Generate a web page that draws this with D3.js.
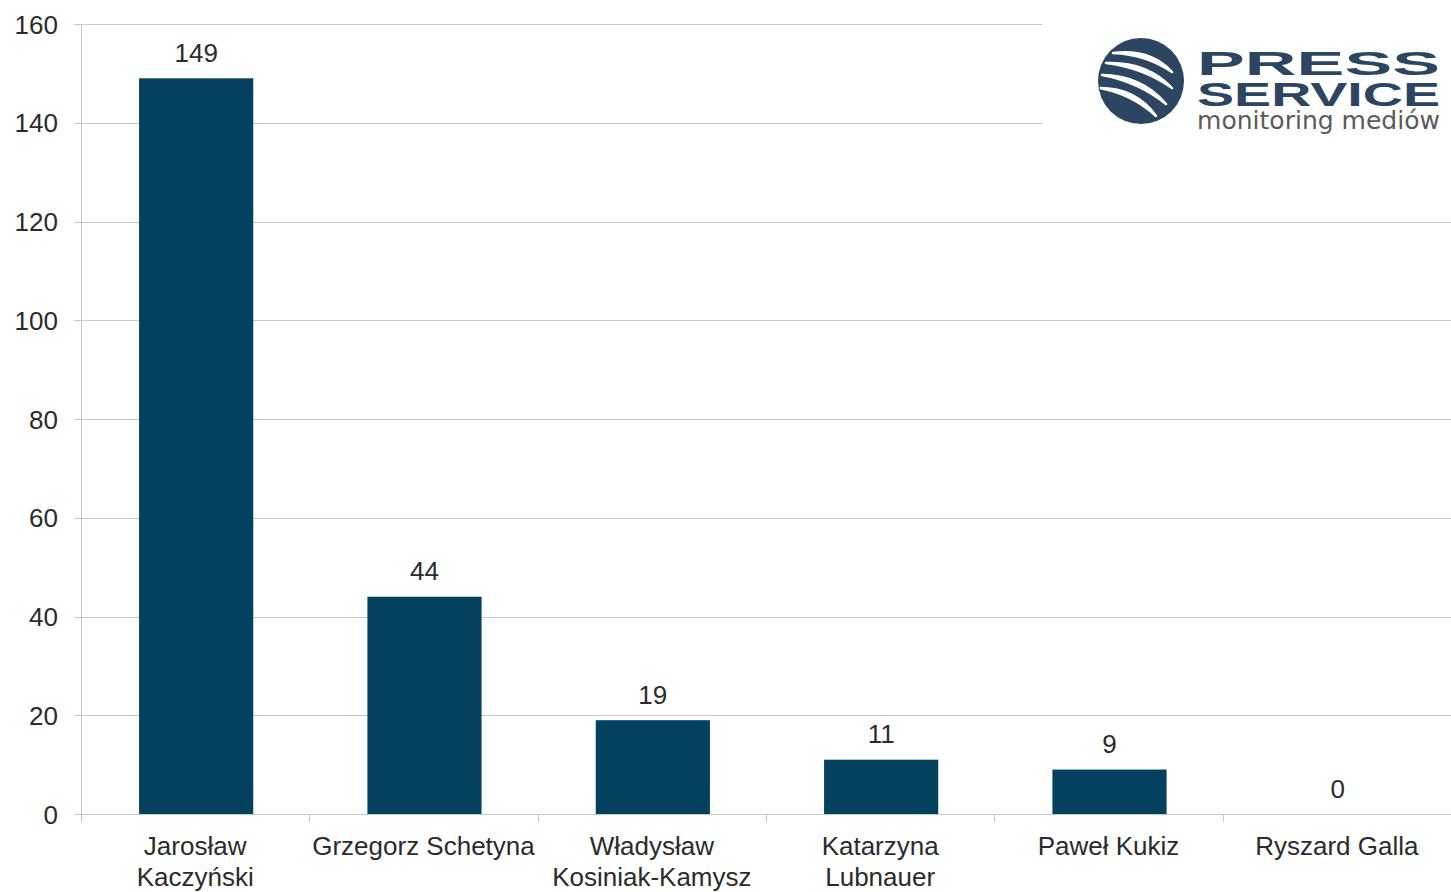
<!DOCTYPE html>
<html><head><meta charset="utf-8">
<script src="https://cdn.jsdelivr.net/npm/d3@7"></script>
<style>body{margin:0;background:#fff}svg{display:block}</style>
</head><body>
<script>
const categories = [["Jarosław","Kaczyński"],["Grzegorz Schetyna"],["Władysław","Kosiniak-Kamysz"],["Katarzyna","Lubnauer"],["Paweł Kukiz"],["Ryszard Galla"]];
const values = [149, 44, 19, 11, 9, 0];
const yTicks = [0,20,40,60,80,100,120,140,160];

const W=1451,H=892;
const svg=d3.select("body").append("svg").attr("width",W).attr("height",H).style("font-family","'Liberation Sans', Arial, sans-serif");
const x=d3.scaleBand().domain(d3.range(categories.length)).range([82,1452]).paddingInner(0.5).paddingOuter(0.25);
const xb=d3.scaleBand().domain(d3.range(categories.length)).range([81,1451]);
const y=d3.scaleLinear().domain([0,160]).range([814,24]);
const grid="#c3c8cd", txt="#2b2b2b";
const fs=26;

// gridlines
svg.append("g").selectAll("line").data(yTicks).join("line")
 .attr("x1",74).attr("x2",W).attr("y1",d=>Math.round(y(d))+0.5).attr("y2",d=>Math.round(y(d))+0.5)
 .attr("stroke",grid).attr("stroke-width",1);
// y axis line
svg.append("line").attr("x1",81.5).attr("x2",81.5).attr("y1",24).attr("y2",822).attr("stroke",grid);
// x category ticks
svg.append("g").selectAll("line").data(d3.range(categories.length)).join("line")
 .attr("x1",d=>Math.round(xb(d))+0.5).attr("x2",d=>Math.round(xb(d))+0.5).attr("y1",814).attr("y2",822).attr("stroke",grid);
// y labels
svg.append("g").selectAll("text").data(yTicks).join("text")
 .attr("x",58).attr("y",d=>y(d)+9.5).attr("text-anchor","end").attr("font-size",fs).attr("fill",txt).text(d=>d);

// bars
svg.append("g").selectAll("rect").data(values).join("rect")
 .attr("x",(d,i)=>x(i)).attr("width",x.bandwidth()).attr("y",d=>y(d)).attr("height",d=>y(0)-y(d))
 .attr("fill","#03415f");

// data labels with white background
const lg=svg.append("g");
values.forEach((v,i)=>{
  const cx=x(i)+x.bandwidth()/2, by=y(v)-17;
  const w=String(v).length*14.5+18;
  lg.append("rect").attr("x",cx-w/2).attr("y",by-25).attr("width",w).attr("height",31).attr("fill","#fff");
  lg.append("text").attr("x",cx).attr("y",by+0.5).attr("text-anchor","middle").attr("font-size",fs).attr("fill",txt).text(v);
});

// category labels
svg.append("g").selectAll("text").data(categories).join("text")
 .attr("x",(d,i)=>xb(i)+xb.bandwidth()/2).attr("y",855).attr("text-anchor","middle").attr("font-size",fs).attr("fill",txt)
 .each(function(d){const t=d3.select(this);d.forEach((s,k)=>t.append("tspan").attr("x",t.attr("x")).attr("dy",k?31:0).text(s));});

// logo
const logo=svg.append("g");
logo.append("rect").attr("x",1042).attr("y",0).attr("width",W-1042).attr("height",150).attr("fill","#fff");
const lc="#2c4561";
logo.append("circle").attr("cx",1141).attr("cy",81).attr("r",43).attr("fill",lc);
svg.append("clipPath").attr("id","lcp").append("circle").attr("cx",1141).attr("cy",81).attr("r",42);
const sg=logo.append("g").attr("clip-path","url(#lcp)");
[[1113,53,1172,72],[1106,63,1172,88],[1102,75,1166,104],[1100,88,1156,116]].forEach(([x1,y1,x2,y2])=>{
  sg.append("path").attr("d",`M${x1},${y1} Q${(x1+x2)/2+8},${(y1+y2)/2-14} ${x2},${y2} Q${(x1+x2)/2+4},${(y1+y2)/2-8} ${x1},${y1}Z`)
    .attr("fill","#fff").attr("stroke","#fff").attr("stroke-width",2.5).attr("stroke-linejoin","round");
});
logo.append("text").attr("x",1197).attr("y",75).attr("font-size",33).attr("font-weight",900).attr("fill",lc)
  .attr("textLength",243).attr("lengthAdjust","spacingAndGlyphs").text("PRESS");
logo.append("text").attr("x",1197).attr("y",106).attr("font-size",33).attr("font-weight",900).attr("fill",lc)
  .attr("textLength",243).attr("lengthAdjust","spacingAndGlyphs").text("SERVICE");
logo.append("text").attr("x",1197).attr("y",129).attr("font-size",25).attr("fill","#5a5a5a")
  .attr("font-family","'DejaVu Sans', sans-serif")
  .attr("textLength",243).attr("lengthAdjust","spacingAndGlyphs").text("monitoring mediów");
</script>
</body></html>
